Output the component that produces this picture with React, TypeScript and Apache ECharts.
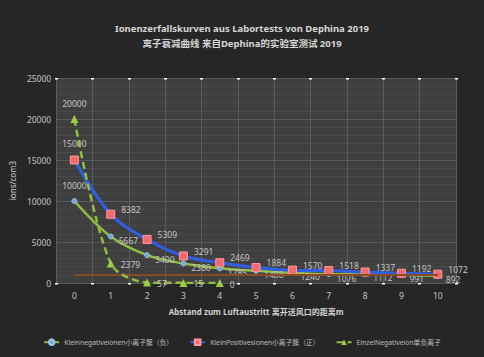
import React, { useEffect, useRef } from "react";
import * as echarts from "echarts";

const categories = ["0", "1", "2", "3", "4", "5", "6", "7", "8", "9", "10"];
const kleinNegative = [10000, 5667, 3400, 2380, 1785, 1488, 1240, 1076, 1112, 991, 892];
const kleinPositive = [15000, 8382, 5309, 3291, 2469, 1884, 1570, 1518, 1337, 1192, 1072];
const einzelNegative: (number | null)[] = [20000, 2379, 57, 15, 0, null, null, null, null, null, null];
const refLevel = 1000;
const yTicks = [0, 5000, 10000, 15000, 20000, 25000];

const seriesNames = [
  "Kleinnegativeionen小离子簇（负）",
  "KleinPositivesionen小离子簇（正）",
  "EinzelNegativeion单负离子",
];

const FONT = "'Noto Sans', 'Noto Sans CJK SC', sans-serif";
const LABEL = "#c4c4c4";

export default function App() {
  const ref = useRef<HTMLDivElement>(null);
  useEffect(() => {
    if (!ref.current) return;
    const chart = echarts.init(ref.current, null, { renderer: "svg" });
    const lbl = (pos: string, offset: number[]) => ({
      show: true,
      position: pos,
      offset,
      color: LABEL,
      fontSize: 8.5,
      fontFamily: FONT,
    });
    const withFirstTop = (arr: (number | null)[], dist: number) =>
      arr.map((v, i) =>
        i === 0 ? { value: v, label: { position: "top", distance: dist, offset: [0, 0] } } : v
      );
    chart.setOption({
      animation: false,
      backgroundColor: "#262626",
      textStyle: { fontFamily: FONT },
      title: {
        text: "Ionenzerfallskurven aus Labortests von Dephina 2019\n离子衰减曲线 来自Dephina的实验室测试 2019",
        left: "center",
        top: 16,
        textStyle: { color: "#d6d6d6", fontSize: 9.5, fontWeight: "bold", lineHeight: 15, fontFamily: FONT },
      },
      legend: {
        bottom: 6,
        left: "center",
        itemGap: 16,
        itemWidth: 15,
        itemHeight: 7,
        data: seriesNames,
        textStyle: { color: "#bdbdbd", fontSize: 6.8, fontFamily: FONT },
      },
      grid: {
        left: 49,
        right: 28,
        top: 78,
        bottom: 74,
        show: true,
        backgroundColor: "#3f3f3f",
        borderWidth: 0,
      },
      xAxis: [
        {
          type: "category",
          data: categories,
          boundaryGap: true,
          name: "Abstand zum Luftaustritt 离开送风口的距离m",
          nameLocation: "middle",
          nameGap: 24,
          nameTextStyle: { color: "#d0d0d0", fontSize: 8, fontWeight: "bold", fontFamily: FONT },
          axisLine: { show: false },
          axisTick: { show: true, length: 1.5, lineStyle: { color: "#ffffff", width: 3 } },
          axisLabel: { color: LABEL, fontSize: 8.5, margin: 8 },
          splitLine: { show: true, lineStyle: { color: "#5c5c5c", width: 1 } },
        },
        {
          type: "category",
          data: categories,
          position: "top",
          boundaryGap: true,
          axisLine: { show: false },
          axisTick: { show: true, length: 1.5, inside: true, lineStyle: { color: "#ffffff", width: 3 } },
          axisLabel: { show: false },
          splitLine: { show: false },
        },
      ],
      yAxis: {
        type: "value",
        min: yTicks[0],
        max: yTicks[yTicks.length - 1],
        interval: 5000,
        name: "ions/com3",
        nameLocation: "middle",
        nameGap: 34,
        nameTextStyle: { color: "#d0d0d0", fontSize: 8, fontFamily: FONT },
        axisLine: { show: false },
        axisTick: { show: false },
        axisLabel: { color: LABEL, fontSize: 8.5, margin: 5, formatter: (v: number) => String(v) },
        splitLine: { show: true, lineStyle: { color: "#5a5a5a", width: 1 } },
        minorTick: { show: false, splitNumber: 5 },
        minorSplitLine: { show: true, lineStyle: { color: "#4a4a4a", width: 1 } },
      },
      series: [
        {
          name: seriesNames[0],
          type: "line",
          data: withFirstTop(kleinNegative, 8),
          smooth: 0.35,
          symbol: "circle",
          symbolSize: 5,
          itemStyle: { color: "#6fa8dc", borderColor: "#9cc3ea", borderWidth: 1 },
          lineStyle: { color: "#8fbf3f", width: 2.5 },
          label: lbl("right", [0, 4]),
          z: 3,
        },
        {
          name: seriesNames[1],
          type: "line",
          data: withFirstTop(kleinPositive, 8),
          smooth: 0.35,
          symbol: "rect",
          symbolSize: 8,
          itemStyle: { color: "#f26b6b", borderColor: "#ff9a9a", borderWidth: 1 },
          lineStyle: { color: "#2f5fe6", width: 3 },
          label: lbl("right", [1, -5]),
          z: 4,
          markLine: {
            silent: true,
            symbol: "none",
            label: { show: false },
            lineStyle: { color: "#8a4a22", width: 2, type: "solid" },
            data: [[{ coord: [0, refLevel] }, { coord: [10.48, refLevel] }]],
          },
        },
        {
          name: seriesNames[2],
          type: "line",
          data: withFirstTop(einzelNegative, 7),
          smooth: 0.3,
          symbol: "triangle",
          symbolSize: 8,
          itemStyle: { color: "#9acd45" },
          lineStyle: { color: "#8fbf3f", width: 2.5, type: [7, 4] },
          label: lbl("right", [1, 1]),
          z: 5,
        },
      ],
    });
    return () => chart.dispose();
  }, []);
  return <div ref={ref} style={{ width: 484, height: 357, position: "absolute", left: 0, top: 0 }} />;
}
